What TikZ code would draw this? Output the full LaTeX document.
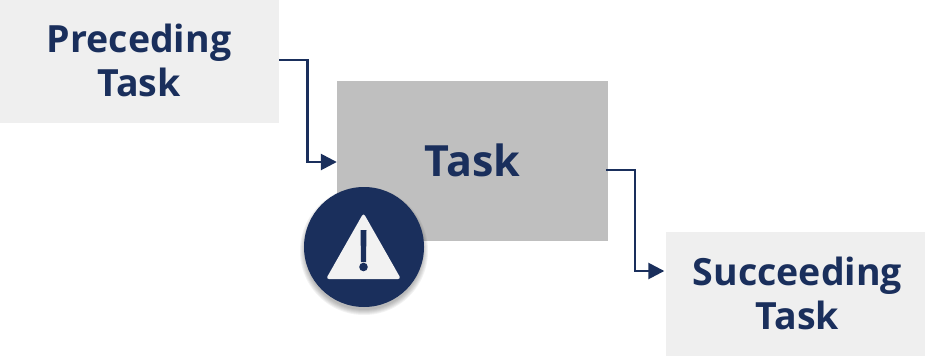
\documentclass[tikz,border=0pt]{standalone}
\usepackage{fontspec}
\setmainfont{Open Sans}
\usetikzlibrary{arrows.meta}
\definecolor{navy}{HTML}{1A2F5C}
\definecolor{lightbox}{HTML}{EFEFEF}
\definecolor{midbox}{HTML}{BFBFBF}
\definecolor{warnfill}{HTML}{F2F2F2}
\tikzset{
 box/.style={inner sep=0pt},
 tasktext/.style={inner sep=0pt,text=navy,align=center,font=\bfseries\fontsize{37.5}{44}\selectfont},
 link/.style={draw=navy,line width=2.6pt,-{Triangle[length=16pt,width=16pt]}}
}
\begin{document}
\begin{tikzpicture}[x=1pt,y=-1pt]
\useasboundingbox (0,0) rectangle (925,356);
\node[box,fill=lightbox,minimum width=279pt,minimum height=123pt] (prec) at (139.5,61.5) {};
\node[tasktext] (prectext) at (139,60) {Preceding\\Task};
\node[box,fill=midbox,minimum width=271pt,minimum height=160pt] (task) at (472.5,161) {};
\node[tasktext,font=\bfseries\fontsize{43}{50}\selectfont] (tasktext) at (472.5,160) {Task};
\node[box,fill=lightbox,minimum width=260pt,minimum height=124pt] (succ) at (796,294) {};
\node[tasktext] (succtext) at (797.5,293) {Succeeding\\Task};
\draw[link] (prec.east|-0,60) -- (307.5,60) |- (task.west|-0,162);
\draw[link,shorten >=1.5pt] ([xshift=-2pt]task.east|-0,170) -- (635,170) |- (succ.west|-0,271);
\foreach \r in {59,60,...,64}{\fill[black,opacity=0.05] (364,251) circle (\r pt);}
\node[circle,fill=navy,minimum size=120pt,inner sep=0pt] (badge) at (364,247) {};
\fill[warnfill,rounded corners=3pt] (363.5,213) -- (401,279) -- (326,279) -- cycle;
\fill[navy] (360.5,230) -- (366.5,230) -- (366,262) -- (361,262) -- cycle;
\fill[navy] (363.5,267) circle (4.3pt);
\end{tikzpicture}
\end{document}
